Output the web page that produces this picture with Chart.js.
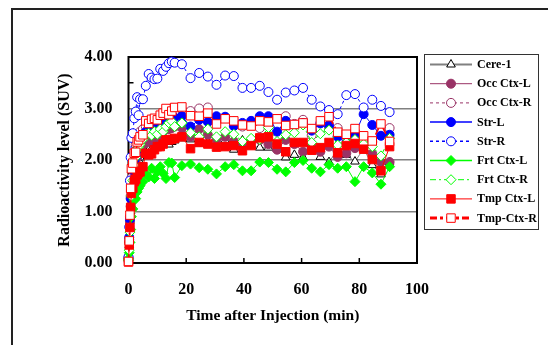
<!DOCTYPE html>
<html>
<head>
<meta charset="utf-8">
<script src="https://cdn.jsdelivr.net/npm/chart.js@4.4.1/dist/chart.umd.min.js"></script>
<style>
  html, body { margin: 0; padding: 0; background: #fff; overflow: hidden; }
  #wrap { position: relative; width: 548px; height: 345px; overflow: hidden; }
  #frame { position: absolute; left: 11px; top: 8px; width: 700px; height: 700px; border: 2px solid #222; }
  #c { position: absolute; left: 0; top: 0; }
</style>
</head>
<body>
<div id="wrap">
  <div id="frame"></div>
  <canvas id="c" width="548" height="345"></canvas>
</div>
<script>
const times = [0, 0.25, 0.5, 0.75, 1, 1.5, 2, 2.5, 3, 3.5, 4, 5, 6, 7, 8, 9, 10, 11, 12, 13, 14, 15, 16,
  18.5, 21.5, 24.5, 27.5, 30.5, 33.5, 36.5, 39.5, 42.5, 45.5, 48.5, 51.5, 54.5, 57.5, 60.5, 63.5, 66.5,
  69.5, 72.5, 75.5, 78.5, 81.5, 84.5, 87.5, 90.5];

const cere1 = [0.05, 0.35, 0.7, 1.0, 1.3, 1.55, 1.75, 1.85, 1.95, 2.0, 2.05, 2.1, 2.15, 2.2, 2.22, 2.25, 2.28, 2.3, 2.3, 2.32, 2.3, 2.35, 2.38,
  2.42, 2.40, 2.32, 2.35, 2.30, 2.38, 2.20, 2.38, 2.28, 2.24, 2.24, 2.22, 2.05, 2.10, 2.05, 2.22, 2.06, 1.96, 2.20, 2.10, 1.97, 2.22, 1.90, 1.72, 1.95];
const occCtxL = [0.05, 0.4, 0.8, 1.1, 1.4, 1.65, 1.85, 1.95, 2.05, 2.15, 2.2, 2.3, 2.35, 2.35, 2.4, 2.4, 2.45, 2.5, 2.55, 2.6, 2.6, 2.62, 2.65,
  2.62, 2.45, 2.60, 2.49, 2.39, 2.45, 2.36, 2.29, 2.39, 2.39, 2.31, 2.20, 2.39, 2.31, 2.16, 2.26, 2.16, 2.26, 2.06, 2.13, 2.23, 2.26, 2.12, 1.96, 1.96];
const occCtxR = [0.05, 0.45, 0.9, 1.3, 1.65, 1.95, 2.15, 2.3, 2.45, 2.5, 2.55, 2.6, 2.65, 2.7, 2.7, 2.75, 2.8, 2.85, 2.9, 2.95, 2.98, 3.0, 2.95,
  2.98, 2.95, 3.0, 3.02, 2.75, 2.82, 2.75, 2.65, 2.70, 2.62, 2.75, 2.68, 2.85, 2.70, 2.78, 2.48, 2.60, 2.82, 2.62, 2.45, 2.55, 2.40, 2.35, 2.55, 2.62];
const strL = [0.1, 0.5, 0.85, 1.25, 1.6, 1.8, 1.95, 2.05, 2.2, 2.3, 2.4, 2.5, 2.55, 2.58, 2.6, 2.6, 2.62, 2.7, 2.75, 2.8, 2.85, 2.88, 2.82,
  2.85, 2.65, 2.78, 2.74, 2.85, 2.84, 2.66, 2.72, 2.76, 2.85, 2.85, 2.55, 2.76, 2.68, 2.72, 2.57, 2.71, 2.67, 2.45, 2.32, 2.49, 2.89, 2.68, 2.47, 2.49];
const strR = [0.12, 0.7, 1.6, 2.05, 2.43, 2.52, 2.81, 2.94, 3.22, 2.87, 3.18, 3.18, 3.44, 3.67, 3.6, 3.57, 3.58, 3.77, 3.73, 3.81, 3.88, 3.91, 3.89,
  3.86, 3.59, 3.69, 3.62, 3.46, 3.64, 3.63, 3.40, 3.40, 3.44, 3.32, 3.17, 3.31, 3.35, 3.40, 3.17, 3.04, 2.97, 2.89, 3.26, 3.28, 3.02, 3.17, 3.05, 2.93];
const frtCtxL = [0.08, 0.2, 0.4, 0.65, 0.9, 1.05, 1.22, 1.25, 1.38, 1.45, 1.5, 1.58, 1.74, 1.67, 1.84, 1.64, 1.77, 1.87, 1.74, 1.64, 1.95, 1.94, 1.66,
  1.89, 1.92, 1.85, 1.82, 1.73, 1.87, 1.91, 1.79, 1.79, 1.96, 1.95, 1.82, 1.77, 1.95, 1.99, 1.84, 1.77, 1.91, 1.84, 1.87, 1.58, 1.87, 1.75, 1.53, 1.87];
const frtCtxR = [0.05, 0.25, 0.6, 1.0, 1.3, 1.6, 1.9, 2.05, 2.2, 2.25, 2.3, 2.4, 2.5, 2.52, 2.48, 2.55, 2.5, 2.6, 2.55, 2.65, 2.72, 2.75, 2.65,
  2.72, 2.53, 2.45, 2.60, 2.45, 2.55, 2.50, 2.36, 2.42, 2.40, 2.63, 2.36, 2.49, 2.53, 2.68, 2.34, 2.51, 2.58, 2.29, 2.34, 2.40, 2.31, 2.26, 2.08, 2.42];
const tmpCtxL = [0.02, 0.35, 0.69, 1.08, 1.35, 1.45, 1.58, 1.62, 1.71, 1.75, 1.77, 1.87, 2.13, 2.10, 2.12, 2.20, 2.26, 2.26, 2.31, 2.39, 2.39, 2.40, 2.42,
  2.45, 2.22, 2.34, 2.31, 2.25, 2.26, 2.28, 2.18, 2.28, 2.43, 2.45, 2.31, 2.16, 2.34, 2.34, 2.19, 2.24, 2.34, 2.14, 2.28, 2.32, 2.21, 2.01, 1.79, 2.26];
const tmpCtxR = [0.03, 0.43, 0.93, 1.45, 1.83, 1.94, 2.13, 2.15, 2.35, 2.39, 2.45, 2.49, 2.76, 2.71, 2.79, 2.81, 2.78, 2.87, 2.91, 3.0, 2.88, 2.95, 3.02,
  3.03, 2.86, 2.85, 2.91, 2.70, 2.80, 2.76, 2.68, 2.66, 2.76, 2.74, 2.80, 2.67, 2.69, 2.72, 2.61, 2.76, 2.84, 2.54, 2.50, 2.61, 2.47, 2.37, 2.70, 2.36];

const seriesNames = ['Cere-1', 'Occ Ctx-L', 'Occ Ctx-R', 'Str-L', 'Str-R', 'Frt Ctx-L', 'Frt Ctx-R', 'Tmp Ctx-L', 'Tmp-Ctx-R'];
const seriesValues = [cere1, occCtxL, occCtxR, strL, strR, frtCtxL, frtCtxR, tmpCtxL, tmpCtxR];
const xTicks = [0, 20, 40, 60, 80, 100];
const yMinorTicks = [0.5, 1.5, 2.5, 3.5];

const FONT = "'Liberation Serif', 'Times New Roman', serif";
const PURPLE = '#993366', BLUE = '#0000ff', GREEN = '#00ff00', RED = '#ff0000';

// Darstellung je Reihe: Linie, Muster, Marker
const styles = [
  { line: '#808080', dash: [], lw: 1, legLw: 2, mark: 'triangle', edge: '#000', fill: '#fff', r: 5 },
  { line: PURPLE, dash: [], lw: 1, legLw: 1, mark: 'circle', edge: PURPLE, fill: PURPLE, r: 4.5 },
  { line: PURPLE, dash: [3, 3], lw: 1, legLw: 1, mark: 'circle', edge: PURPLE, fill: '#fff', r: 4.5 },
  { line: BLUE, dash: [], lw: 1, legLw: 1.5, mark: 'circle', edge: BLUE, fill: BLUE, r: 4.5 },
  { line: BLUE, dash: [3, 3], lw: 1, legLw: 1.5, mark: 'circle', edge: BLUE, fill: '#fff', r: 4.5 },
  { line: GREEN, dash: [], lw: 1, legLw: 1.5, mark: 'rectRot', edge: GREEN, fill: GREEN, r: 5 },
  { line: GREEN, dash: [6, 3, 2, 3], lw: 1, legLw: 1, mark: 'rectRot', edge: GREEN, fill: '#fff', r: 5 },
  { line: RED, dash: [], lw: 1, legLw: 1, mark: 'rect', edge: RED, fill: RED, r: 6 },
  { line: RED, dash: [7, 3, 3, 3], lw: 1.5, legLw: 3, mark: 'rect', edge: RED, fill: '#fff', r: 6 }
];

const datasets = seriesNames.map((name, i) => ({
  label: name,
  data: times.map((t, j) => ({ x: t, y: seriesValues[i][j] })),
  borderColor: styles[i].line,
  borderDash: styles[i].dash,
  borderWidth: styles[i].lw,
  pointStyle: styles[i].mark,
  pointRadius: styles[i].r,
  pointBorderColor: styles[i].edge,
  pointBackgroundColor: styles[i].fill,
  pointBorderWidth: 1,
  tension: 0,
  clip: false,
  order: seriesNames.length - i
}));

// Rahmen und kleine Teilstriche um die Zeichenfläche
const framePlugin = {
  id: 'frame',
  beforeDatasetsDraw(chart) {
    const { ctx, chartArea: a, scales } = chart;
    ctx.save();
    ctx.strokeStyle = '#000';
    ctx.lineWidth = 1.5;
    xTicks.slice(1, -1).forEach(v => {
      const x = scales.x.getPixelForValue(v);
      ctx.beginPath(); ctx.moveTo(x, a.bottom); ctx.lineTo(x, a.bottom - 5); ctx.stroke();
    });
    yMinorTicks.forEach(v => {
      const y = scales.y.getPixelForValue(v);
      ctx.beginPath(); ctx.moveTo(a.left, y); ctx.lineTo(a.left + 5, y); ctx.stroke();
    });
    ctx.lineWidth = 2;
    ctx.strokeRect(a.left, a.top, a.right - a.left, a.bottom - a.top);
    ctx.restore();
  }
};

// Legende wie in Excel: Linie mit Marker in der Mitte
const legendPlugin = {
  id: 'excelLegend',
  afterDraw(chart) {
    const ctx = chart.ctx;
    ctx.save();
    ctx.strokeStyle = '#333';
    ctx.lineWidth = 1;
    ctx.strokeRect(424.5, 54.5, 114, 175);
    seriesNames.forEach((name, i) => {
      const s = styles[i];
      const y = 64.5 + i * 19.2;
      ctx.strokeStyle = s.line;
      ctx.lineWidth = s.legLw;
      ctx.setLineDash(s.dash);
      ctx.beginPath(); ctx.moveTo(430, y); ctx.lineTo(472, y); ctx.stroke();
      ctx.setLineDash([]);
      ctx.fillStyle = s.fill;
      ctx.strokeStyle = s.edge;
      ctx.lineWidth = 1;
      Chart.helpers.drawPoint(ctx, { pointStyle: s.mark, radius: s.r, rotation: 0, borderWidth: 1 }, 451, y);
      ctx.fillStyle = '#000';
      ctx.font = 'bold 12px ' + FONT;
      ctx.textBaseline = 'middle';
      ctx.fillText(name, 477, y + 0.5);
    });
    ctx.restore();
  }
};

new Chart(document.getElementById('c'), {
  type: 'line',
  data: { datasets },
  plugins: [framePlugin, legendPlugin],
  options: {
    responsive: false,
    animation: false,
    layout: { padding: { left: 0, top: 57, right: 131, bottom: 0 } },
    plugins: { legend: { display: false }, tooltip: { enabled: false } },
    scales: {
      x: {
        type: 'linear',
        min: 0,
        max: 100,
        afterFit: s => { s.height = 82; },
        afterBuildTicks: s => { s.ticks = xTicks.map(v => ({ value: v })); },
        grid: { display: false },
        border: { display: false },
        ticks: { color: '#000', padding: 9, font: { family: FONT, size: 16, weight: 'bold' } },
        title: {
          display: true,
          text: 'Time after Injection (min)',
          color: '#000',
          padding: { top: 0, bottom: 20 },
          font: { family: FONT, size: 15.5, weight: 'bold' }
        }
      },
      y: {
        min: 0,
        max: 4,
        afterFit: s => { s.width = 128.5; },
        grid: {
          drawTicks: false,
          lineWidth: 1.5,
          color: c => ([1, 2, 3].includes(c.tick.value) ? '#808080' : 'rgba(0,0,0,0)')
        },
        border: { display: false },
        ticks: {
          stepSize: 0.5,
          autoSkip: false,
          color: '#000',
          padding: 16,
          font: { family: FONT, size: 16, weight: 'bold' },
          callback: v => (v % 1 === 0 ? v.toFixed(2) : '')
        },
        title: {
          display: true,
          text: 'Radioactivity level (SUV)',
          color: '#000',
          padding: { top: 55, bottom: 0 },
          font: { family: FONT, size: 16, weight: 'bold' }
        }
      }
    }
  }
});
</script>
</body>
</html>
